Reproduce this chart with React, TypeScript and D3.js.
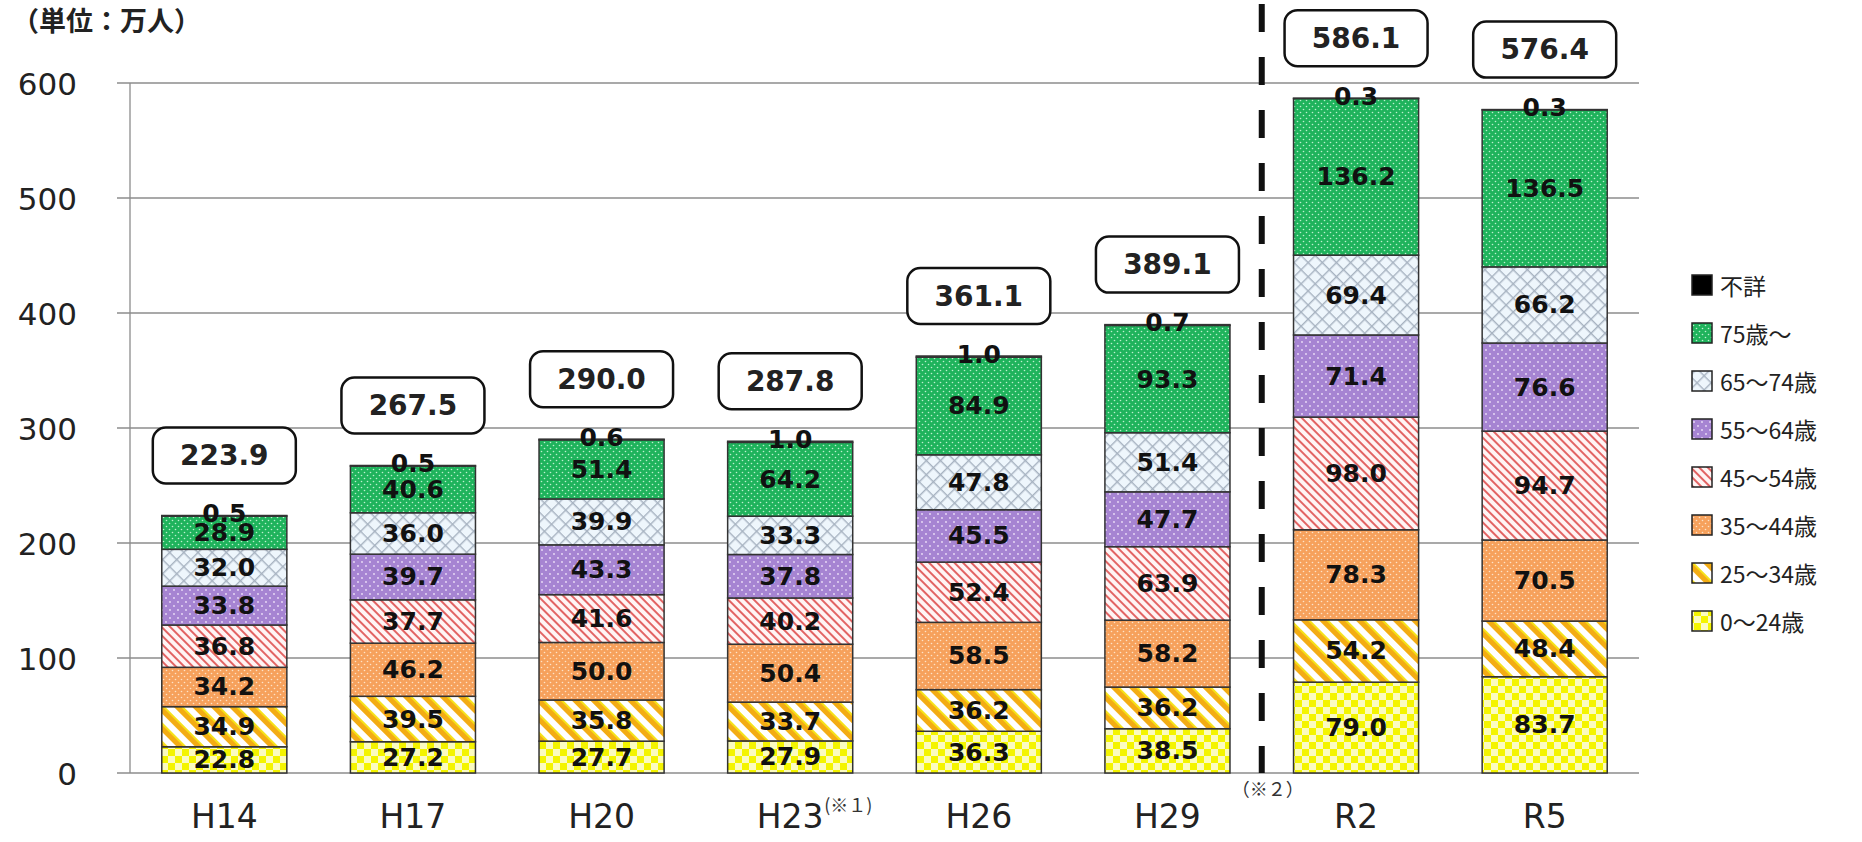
import * as d3 from "d3";

// survey rounds (x axis)
const categories = ["H14", "H17", "H20", "H23", "H26", "H29", "R2", "R5"];

// age groups, bottom of the stack first
const ageGroups = ["0～24歳", "25～34歳", "35～44歳", "45～54歳", "55～64歳", "65～74歳", "75歳～", "不詳"];

const age0to24 = [22.8, 27.2, 27.7, 27.9, 36.3, 38.5, 79.0, 83.7];
const age25to34 = [34.9, 39.5, 35.8, 33.7, 36.2, 36.2, 54.2, 48.4];
const age35to44 = [34.2, 46.2, 50.0, 50.4, 58.5, 58.2, 78.3, 70.5];
const age45to54 = [36.8, 37.7, 41.6, 40.2, 52.4, 63.9, 98.0, 94.7];
const age55to64 = [33.8, 39.7, 43.3, 37.8, 45.5, 47.7, 71.4, 76.6];
const age65to74 = [32.0, 36.0, 39.9, 33.3, 47.8, 51.4, 69.4, 66.2];
const age75plus = [28.9, 40.6, 51.4, 64.2, 84.9, 93.3, 136.2, 136.5];
const ageUnknown = [0.5, 0.5, 0.6, 1.0, 1.0, 0.7, 0.3, 0.3];

const totals = [223.9, 267.5, 290.0, 287.8, 361.1, 389.1, 586.1, 576.4];
const yTicks = [0, 100, 200, 300, 400, 500, 600];

const unitLabel = "（単位：万人）";
const noteH23 = "(※１)";
const noteBreak = "（※２）";

const seriesValues = [age0to24, age25to34, age35to44, age45to54, age55to64, age65to74, age75plus, ageUnknown];
const patternIds = ["p-y", "p-ys", "p-or", "p-rs", "p-pu", "p-bl", "p-gr", "p-bk"];

const WIDTH = 1862;
const HEIGHT = 842;
const PLOT = { left: 130, right: 1639, top: 83, bottom: 773 };
const NUM_FONT = "DejaVu Sans";
const JP_FONT = "Noto Sans CJK JP";

const Patterns = () => (
  <defs>
    {/* 0~24: yellow checker */}
    <pattern id="p-y" width={14} height={14} patternUnits="userSpaceOnUse">
      <rect width={14} height={14} fill="#f4f400" />
      <rect width={7} height={7} fill="#fbfbc0" />
      <rect x={7} y={7} width={7} height={7} fill="#fbfbc0" />
    </pattern>
    {/* 25~34: wide gold stripes */}
    <pattern id="p-ys" width={13} height={13} patternUnits="userSpaceOnUse" patternTransform="rotate(-45)">
      <rect width={13} height={13} fill="#ffffff" />
      <rect width={5} height={13} fill="#f3ac14" />
      <rect x={5} width={2} height={13} fill="#f6e21a" />
    </pattern>
    {/* 35~44: orange with white dots */}
    <pattern id="p-or" width={6} height={6} patternUnits="userSpaceOnUse">
      <rect width={6} height={6} fill="#f6a15c" />
      <circle cx={1.5} cy={1.5} r={0.8} fill="#fde3c8" />
      <circle cx={4.5} cy={4.5} r={0.8} fill="#fde3c8" />
    </pattern>
    {/* 45~54: thin red stripes */}
    <pattern id="p-rs" width={6} height={6} patternUnits="userSpaceOnUse" patternTransform="rotate(-45)">
      <rect width={6} height={6} fill="#fff4f4" />
      <rect width={2} height={6} fill="#e26464" />
    </pattern>
    {/* 55~64: purple with white dots */}
    <pattern id="p-pu" width={8} height={8} patternUnits="userSpaceOnUse">
      <rect width={8} height={8} fill="#a684d2" />
      <circle cx={2} cy={2} r={0.9} fill="#ecdff8" />
      <circle cx={6} cy={6} r={0.9} fill="#ecdff8" />
    </pattern>
    {/* 65~74: pale blue crosshatch */}
    <pattern id="p-bl" width={10} height={10} patternUnits="userSpaceOnUse" patternTransform="rotate(45)">
      <rect width={10} height={10} fill="#eef6fc" />
      <rect width={1.4} height={10} fill="#a6b2c0" />
      <rect width={10} height={1.4} fill="#a6b2c0" />
    </pattern>
    {/* 75~: green with white dots */}
    <pattern id="p-gr" width={6} height={6} patternUnits="userSpaceOnUse">
      <rect width={6} height={6} fill="#1fb35c" />
      <circle cx={1.5} cy={1.5} r={0.8} fill="#bdf0cf" />
      <circle cx={4.5} cy={4.5} r={0.8} fill="#bdf0cf" />
    </pattern>
    <pattern id="p-bk" width={4} height={4} patternUnits="userSpaceOnUse">
      <rect width={4} height={4} fill="#000000" />
    </pattern>
  </defs>
);

export default function App() {
  const rows = categories.map((cat, i) => {
    const row: Record<string, number | string> = { cat };
    ageGroups.forEach((g, k) => {
      row[g] = seriesValues[k][i];
    });
    return row;
  });

  const stacked = d3.stack<Record<string, number | string>>().keys(ageGroups)(rows as any);

  const x = d3
    .scaleBand<string>()
    .domain(categories)
    .range([PLOT.left, PLOT.right])
    .paddingInner(0.337)
    .paddingOuter(0.1685);
  const y = d3.scaleLinear().domain([0, 600]).range([PLOT.bottom, PLOT.top]);
  const bw = x.bandwidth();
  const fmt = d3.format(".1f");
  const center = (c: string) => (x(c) ?? 0) + bw / 2;

  const breakX = (center("H29") + center("R2")) / 2;

  return (
    <svg
      width={WIDTH}
      height={HEIGHT}
      style={{ position: "absolute", left: 0, top: 0, display: "block", background: "#fff" }}
    >
      <Patterns />

      <text x={12} y={31} fontFamily={JP_FONT} fontWeight={700} fontSize={27} fill="#222">
        {unitLabel}
      </text>

      {/* grid + y ticks */}
      {yTicks.map((t) => (
        <g key={t}>
          <line x1={PLOT.left - 13} x2={PLOT.right} y1={y(t)} y2={y(t)} stroke="#8c8c8c" strokeWidth={1.3} />
          <text
            x={77}
            y={y(t) + 1}
            textAnchor="end"
            dominantBaseline="central"
            fontFamily={NUM_FONT}
            fontSize={31}
            fill="#222"
          >
            {t}
          </text>
        </g>
      ))}
      <line x1={PLOT.left} x2={PLOT.left} y1={PLOT.top} y2={PLOT.bottom} stroke="#8c8c8c" strokeWidth={1.3} />

      {/* stacked bars */}
      {stacked.map((layer, k) => (
        <g key={layer.key}>
          {layer.map((d, i) => (
            <rect
              key={categories[i]}
              x={x(categories[i])}
              y={y(d[1])}
              width={bw}
              height={Math.max(0, y(d[0]) - y(d[1]))}
              fill={`url(#${patternIds[k]})`}
              stroke="#333"
              strokeWidth={1.5}
            />
          ))}
        </g>
      ))}

      {/* segment labels */}
      {stacked.map((layer, k) => (
        <g key={`lab-${layer.key}`}>
          {layer.map((d, i) => {
            const isTop = k === stacked.length - 1;
            const cy = isTop ? y(d[1]) - 2 : (y(d[0]) + y(d[1])) / 2;
            return (
              <text
                key={categories[i]}
                x={center(categories[i])}
                y={cy}
                textAnchor="middle"
                dominantBaseline="central"
                fontFamily={NUM_FONT}
                fontWeight={700}
                fontSize={25}
                fill="#111"
              >
                {fmt(seriesValues[k][i])}
              </text>
            );
          })}
        </g>
      ))}

      {/* total boxes */}
      {categories.map((c, i) => {
        const top = y(stacked[stacked.length - 1][i][1]);
        const boxH = 56;
        const boxW = 143;
        const by = top - 32 - boxH;
        return (
          <g key={`tot-${c}`}>
            <rect
              x={center(c) - boxW / 2}
              y={by}
              width={boxW}
              height={boxH}
              rx={13}
              fill="#fff"
              stroke="#111"
              strokeWidth={2.5}
            />
            <text
              x={center(c)}
              y={by + boxH / 2}
              textAnchor="middle"
              dominantBaseline="central"
              fontFamily={NUM_FONT}
              fontWeight={700}
              fontSize={28}
              fill="#222"
            >
              {fmt(totals[i])}
            </text>
          </g>
        );
      })}

      {/* methodology break */}
      <line
        x1={breakX}
        x2={breakX}
        y1={4}
        y2={PLOT.bottom}
        stroke="#111"
        strokeWidth={6}
        strokeDasharray="28 25"
      />

      {/* x labels */}
      {categories.map((c) => (
        <text
          key={`x-${c}`}
          x={center(c)}
          y={828}
          textAnchor="middle"
          fontFamily={NUM_FONT}
          fontSize={33}
          fill="#222"
        >
          {c}
        </text>
      ))}
      <text x={center("H23") + 34} y={812} fontFamily={JP_FONT} fontSize={18} fill="#333">
        {noteH23}
      </text>
      <text x={breakX + 6} y={796} textAnchor="middle" fontFamily={JP_FONT} fontSize={18} fill="#333">
        {noteBreak}
      </text>

      {/* legend */}
      {ageGroups
        .map((g, k) => ({ g, k }))
        .reverse()
        .map(({ g, k }, j) => {
          const cy = 285 + j * 48;
          return (
            <g key={`lg-${g}`}>
              <rect
                x={1692}
                y={cy - 10}
                width={20}
                height={20}
                fill={`url(#${patternIds[k]})`}
                stroke="#222"
                strokeWidth={1.5}
              />
              <text
                x={1720}
                y={cy}
                dominantBaseline="central"
                fontFamily={JP_FONT}
                fontSize={23}
                fill="#222"
              >
                {g}
              </text>
            </g>
          );
        })}
    </svg>
  );
}
